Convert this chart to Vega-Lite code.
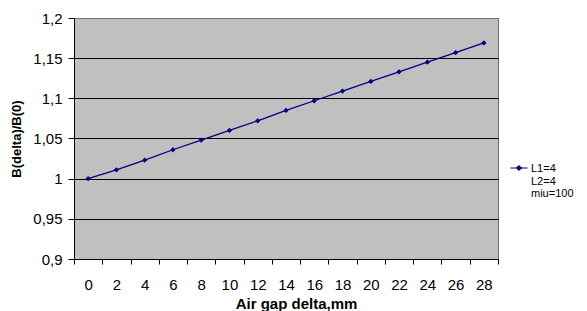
{
  "$schema": "https://vega.github.io/schema/vega-lite/v6.json",
  "width": 424,
  "height": 241,
  "autosize": {"type": "none"},
  "padding": {"left": 74, "top": 18, "right": 89, "bottom": 52},
  "background": "white",
  "config": {
    "font": "Liberation Sans",
    "view": {"fill": "#C0C0C0", "stroke": "#707070", "strokeWidth": 1}
  },
  "data": {
    "values": [
      {"delta": 0, "ratio": 1.000, "series": "L1=4 L2=4 miu=100"},
      {"delta": 2, "ratio": 1.011, "series": "L1=4 L2=4 miu=100"},
      {"delta": 4, "ratio": 1.023, "series": "L1=4 L2=4 miu=100"},
      {"delta": 6, "ratio": 1.036, "series": "L1=4 L2=4 miu=100"},
      {"delta": 8, "ratio": 1.048, "series": "L1=4 L2=4 miu=100"},
      {"delta": 10, "ratio": 1.060, "series": "L1=4 L2=4 miu=100"},
      {"delta": 12, "ratio": 1.072, "series": "L1=4 L2=4 miu=100"},
      {"delta": 14, "ratio": 1.085, "series": "L1=4 L2=4 miu=100"},
      {"delta": 16, "ratio": 1.097, "series": "L1=4 L2=4 miu=100"},
      {"delta": 18, "ratio": 1.109, "series": "L1=4 L2=4 miu=100"},
      {"delta": 20, "ratio": 1.121, "series": "L1=4 L2=4 miu=100"},
      {"delta": 22, "ratio": 1.133, "series": "L1=4 L2=4 miu=100"},
      {"delta": 24, "ratio": 1.145, "series": "L1=4 L2=4 miu=100"},
      {"delta": 26, "ratio": 1.157, "series": "L1=4 L2=4 miu=100"},
      {"delta": 28, "ratio": 1.169, "series": "L1=4 L2=4 miu=100"}
    ]
  },
  "encoding": {
    "x": {
      "field": "delta",
      "type": "quantitative",
      "scale": {"domain": [-1, 29], "nice": false, "zero": false},
      "axis": {
        "values": [-1, 1, 3, 5, 7, 9, 11, 13, 15, 17, 19, 21, 23, 25, 27, 29],
        "labelExpr": "datum.value >= 29 ? '' : '' + (datum.value + 1)",
        "labelOffset": 14.13,
        "grid": false,
        "domainColor": "black",
        "tickColor": "black",
        "tickSize": 5,
        "labelPadding": 13,
        "labelFontSize": 15,
        "labelColor": "black",
        "labelFlush": false,
        "labelOverlap": false,
        "title": "Air gap delta,mm",
        "titleFontSize": 15,
        "titleFontWeight": "bold",
        "titleColor": "black",
        "titlePadding": 4,
        "titleX": 222
      }
    },
    "y": {
      "field": "ratio",
      "type": "quantitative",
      "scale": {"domain": [0.9, 1.2], "nice": false, "zero": false},
      "axis": {
        "values": [0.9, 0.95, 1, 1.05, 1.1, 1.15, 1.2],
        "labelExpr": "replace(format(datum.value, '.2~f'), '.', ',')",
        "grid": true,
        "gridColor": {"condition": {"test": "datum.value >= 1.2", "value": "#707070"}, "value": "black"},
        "gridOpacity": 1,
        "domainColor": "black",
        "tickColor": "black",
        "tickSize": 6,
        "labelPadding": 6,
        "labelFontSize": 15,
        "labelColor": "black",
        "labelFlush": false,
        "labelOverlap": false,
        "title": "B(delta)/B(0)",
        "titleFontSize": 13,
        "titleFontWeight": "bold",
        "titleColor": "black",
        "titlePadding": 9
      }
    }
  },
  "layer": [
    {
      "mark": {"type": "line", "strokeWidth": 1.3},
      "encoding": {
        "color": {
          "field": "series",
          "type": "nominal",
          "scale": {"range": ["#000080"]},
          "legend": {
            "orient": "none",
            "legendX": 436,
            "legendY": 141,
            "title": null,
            "padding": 0,
            "symbolType": "M-1,0L1,0M-0.3,0L0,-0.3L0.3,0L0,0.3Z",
            "symbolSize": 289,
            "symbolStrokeColor": "#000080",
            "symbolFillColor": "#000080",
            "symbolStrokeWidth": 1,
            "labelFontSize": 11,
            "labelColor": "black",
            "labelOffset": 3,
            "labelExpr": "['L1=4', 'L2=4', 'miu=100']",
            "encode": {
              "labels": {
                "update": {
                  "lineHeight": {"value": 12.5},
                  "baseline": {"value": "alphabetic"},
                  "dy": {"value": 4}
                }
              }
            }
          }
        }
      }
    },
    {
      "mark": {"type": "point", "shape": "diamond", "filled": true, "size": 28, "color": "#000080", "opacity": 1}
    }
  ]
}
